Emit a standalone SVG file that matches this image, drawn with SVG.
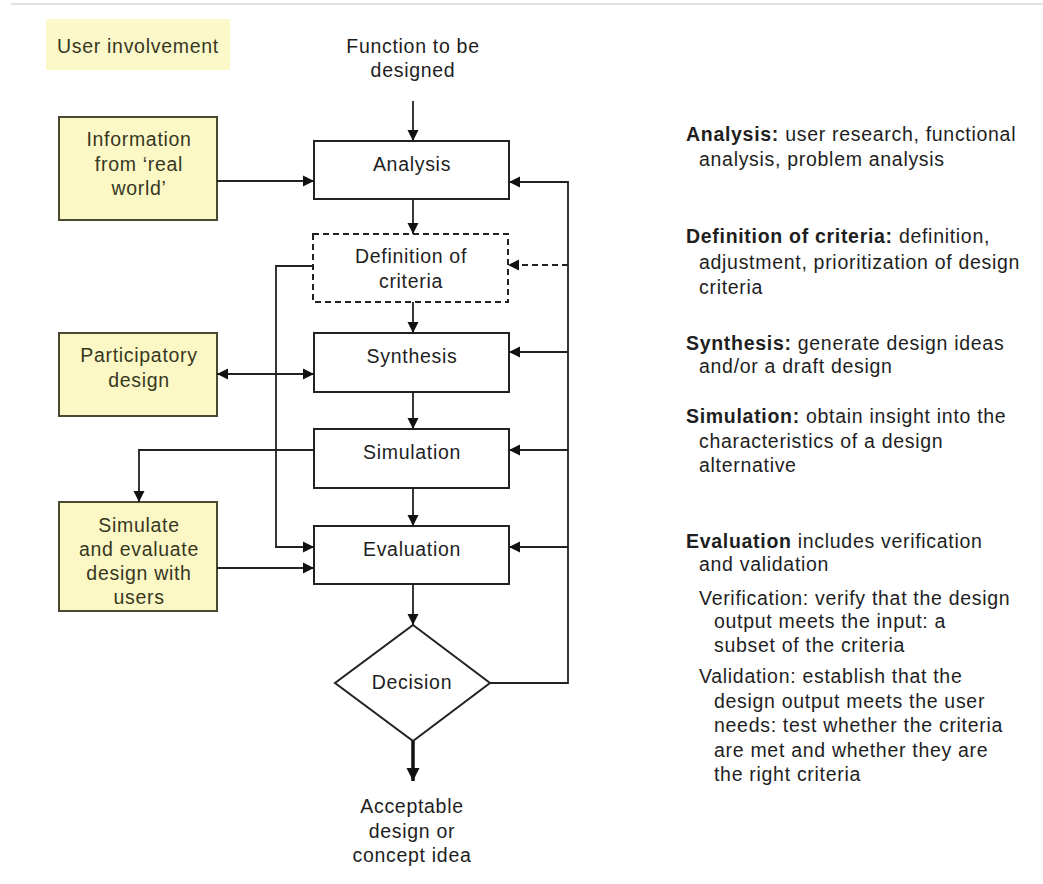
<svg xmlns="http://www.w3.org/2000/svg" width="1043" height="884" viewBox="0 0 1043 884">
  <style>
    text { font-family: "Liberation Sans", Arial, sans-serif; font-size: 19.5px; letter-spacing: 0.7px; fill: #1e1e1e; }
    .c { text-anchor: middle; }
    .u text, text.u { fill: #37371e; }
    .user { fill: #fbf8c6; stroke: #4a4a30; stroke-width: 2; }
    .box { fill: #ffffff; stroke: #222; stroke-width: 2; }
    .dash { stroke-dasharray: 6 4; }
    .ln { fill: none; stroke: #222; stroke-width: 1.8; }
    .arr { marker-end: url(#ah); }
    .b { font-weight: bold; }
  </style>
  <defs>
    <marker id="ah" markerUnits="userSpaceOnUse" markerWidth="12" markerHeight="12" refX="11" refY="6" orient="auto-start-reverse">
      <path d="M0,0.5 L11,6 L0,11.5 z" fill="#111"/>
    </marker>
    <marker id="ahBig" markerUnits="userSpaceOnUse" markerWidth="14" markerHeight="14" refX="13" refY="7" orient="auto">
      <path d="M0,0.5 L13,7 L0,13.5 z" fill="#111"/>
    </marker>
  </defs>

  <!-- header rule -->
  <line x1="11" y1="4" x2="1043" y2="4" stroke="#dadada" stroke-width="1.5"/>

  <!-- legend -->
  <g id="legend">
    <rect x="46" y="19" width="184" height="51" fill="#fbf8c9"/>
    <text class="u" x="57" y="53">User involvement</text>
  </g>

  <g id="function-input">
    <text class="c" x="413" y="53">Function to be</text>
    <text class="c" x="413" y="77">designed</text>
  </g>

  <!-- process steps -->
  <g id="analysis">
    <rect class="box" x="314" y="141" width="195" height="58"/>
    <text class="c" x="412" y="171">Analysis</text>
  </g>
  <g id="criteria">
    <rect class="box dash" x="313" y="234" width="195" height="68"/>
    <text class="c" x="411" y="263">Definition of</text>
    <text class="c" x="411" y="288">criteria</text>
  </g>
  <g id="synthesis">
    <rect class="box" x="314" y="333" width="195" height="59"/>
    <text class="c" x="412" y="363">Synthesis</text>
  </g>
  <g id="simulation">
    <rect class="box" x="314" y="429" width="195" height="59"/>
    <text class="c" x="412" y="459">Simulation</text>
  </g>
  <g id="evaluation">
    <rect class="box" x="314" y="526" width="195" height="58"/>
    <text class="c" x="412" y="556">Evaluation</text>
  </g>
  <g id="decision">
    <polygon class="box" points="413,625 490,683 413,741 335,683"/>
    <text class="c" x="412" y="689">Decision</text>
  </g>
  <g id="outcome">
    <text class="c" x="412" y="813">Acceptable</text>
    <text class="c" x="412" y="838">design or</text>
    <text class="c" x="412" y="862">concept idea</text>
  </g>

  <!-- user involvement activities -->
  <g id="real-world" class="u">
    <rect class="user" x="59" y="117" width="158" height="103"/>
    <text class="c" x="139" y="146">Information</text>
    <text class="c" x="139" y="171">from ‘real</text>
    <text class="c" x="139" y="195">world’</text>
  </g>
  <g id="participatory" class="u">
    <rect class="user" x="59" y="333" width="158" height="83"/>
    <text class="c" x="139" y="362">Participatory</text>
    <text class="c" x="139" y="387">design</text>
  </g>
  <g id="user-test" class="u">
    <rect class="user" x="59" y="502" width="158" height="109"/>
    <text class="c" x="139" y="532">Simulate</text>
    <text class="c" x="139" y="556">and evaluate</text>
    <text class="c" x="139" y="580">design with</text>
    <text class="c" x="139" y="604">users</text>
  </g>

  <!-- connectors -->
  <g id="connectors">
    <line class="ln arr" x1="413" y1="101" x2="413" y2="141"/>
    <line class="ln arr" x1="217" y1="181" x2="314" y2="181"/>
    <line class="ln arr" x1="413" y1="199" x2="413" y2="234"/>
    <line class="ln arr" x1="413" y1="302" x2="413" y2="333"/>
    <line class="ln arr" x1="413" y1="392" x2="413" y2="429"/>
    <line class="ln arr" x1="413" y1="488" x2="413" y2="526"/>
    <line class="ln arr" x1="413" y1="584" x2="413" y2="625"/>
    <line fill="none" stroke="#111" stroke-width="3.5" marker-end="url(#ahBig)" x1="413" y1="741" x2="413" y2="781"/>

    <!-- criteria feed into evaluation -->
    <polyline class="ln arr" points="313,266 276,266 276,547 314,547"/>
    <!-- participatory design exchange -->
    <line class="ln arr" marker-start="url(#ah)" x1="217" y1="374" x2="314" y2="374"/>
    <!-- simulation to user test -->
    <polyline class="ln arr" points="314,450 139,450 139,502"/>
    <line class="ln arr" x1="217" y1="568" x2="314" y2="568"/>

    <!-- iteration loop from decision -->
    <polyline class="ln" points="490,683 568,683 568,181"/>
    <line class="ln arr" x1="568" y1="182" x2="509" y2="182"/>
    <line class="ln arr dash" x1="568" y1="265" x2="508" y2="265"/>
    <line class="ln arr" x1="568" y1="352" x2="509" y2="352"/>
    <line class="ln arr" x1="568" y1="450" x2="509" y2="450"/>
    <line class="ln arr" x1="568" y1="547" x2="509" y2="547"/>
  </g>

  <!-- step descriptions -->
  <g id="descriptions">
    <text x="686" y="141"><tspan class="b">Analysis:</tspan> user research, functional</text>
    <text x="699" y="166">analysis, problem analysis</text>

    <text x="686" y="243"><tspan class="b">Definition of criteria:</tspan> definition,</text>
    <text x="699" y="269">adjustment, prioritization of design</text>
    <text x="699" y="294">criteria</text>

    <text x="686" y="350"><tspan class="b">Synthesis:</tspan> generate design ideas</text>
    <text x="699" y="373">and/or a draft design</text>

    <text x="686" y="423"><tspan class="b">Simulation:</tspan> obtain insight into the</text>
    <text x="699" y="448">characteristics of a design</text>
    <text x="699" y="472">alternative</text>

    <text x="686" y="548"><tspan class="b">Evaluation</tspan> includes verification</text>
    <text x="699" y="571">and validation</text>
    <text x="699" y="605">Verification: verify that the design</text>
    <text x="714" y="628">output meets the input: a</text>
    <text x="714" y="652">subset of the criteria</text>
    <text x="699" y="683">Validation: establish that the</text>
    <text x="714" y="708">design output meets the user</text>
    <text x="714" y="732">needs: test whether the criteria</text>
    <text x="714" y="757">are met and whether they are</text>
    <text x="714" y="781">the right criteria</text>
  </g>
</svg>
